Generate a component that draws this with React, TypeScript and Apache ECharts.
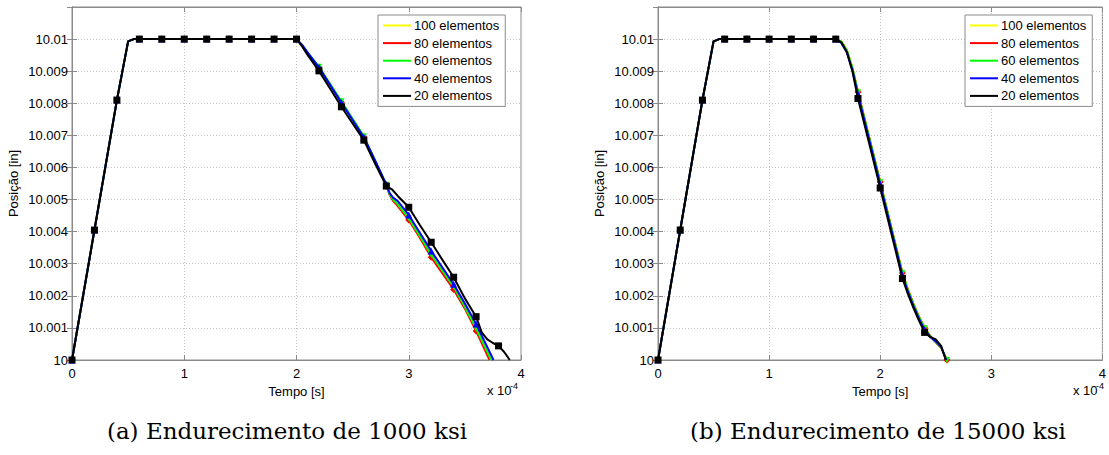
import React, { useEffect, useRef } from "react";
import * as echarts from "echarts";

// ---------- data ----------
const seriesNames = ["100 elementos", "80 elementos", "60 elementos", "40 elementos", "20 elementos"];
const seriesColors = ["#ffff00", "#ff0000", "#00ff00", "#0000ff", "#000000"];
const markerShapes = ["circle", "diamond", "triangle", "triangle", "rect"];
const markerRotations = [0, 0, 180, 0, 0];
const markerSizes = [5, 7, 6, 7, 7];

const xTickValues = [0, 1, 2, 3, 4];
const captionA = "(a) Endurecimento de 1000 ksi";
const captionB = "(b) Endurecimento de 15000 ksi";

// time in units of 1e-4 s, position in inches
const riseCommon: number[][] = [
  [0, 10.0], [0.2, 10.00405], [0.4, 10.0081], [0.5, 10.00993], [0.55, 10.01],
  [0.6, 10.01], [0.8, 10.01], [1.0, 10.01], [1.2, 10.01], [1.4, 10.01], [1.6, 10.01],
];
const plateauLeft: number[][] = [[1.8, 10.01], [2.0, 10.01]];

// chart (a) — descent
const leftTail100: number[][] = [
  [2.05, 10.0098], [2.1, 10.00956], [2.2, 10.00913], [2.3, 10.00858], [2.4, 10.00804], [2.5, 10.0075],
  [2.6, 10.00696], [2.7, 10.0062], [2.8, 10.00545], [2.83, 10.00515], [2.86, 10.00497], [2.9, 10.00482],
  [3.0, 10.00438], [3.1, 10.00382], [3.2, 10.00323], [3.3, 10.00273], [3.4, 10.00222],
  [3.5, 10.00162], [3.6, 10.00093], [3.725, 10.0],
];
const leftTail80: number[][] = [
  [2.05, 10.0098], [2.1, 10.00955], [2.2, 10.00912], [2.3, 10.00858], [2.4, 10.00803], [2.5, 10.0075],
  [2.6, 10.00695], [2.7, 10.0062], [2.8, 10.00545], [2.83, 10.00514], [2.86, 10.00496], [2.9, 10.0048],
  [3.0, 10.00436], [3.1, 10.0038], [3.2, 10.0032], [3.3, 10.0027], [3.4, 10.0022],
  [3.5, 10.0016], [3.6, 10.0009], [3.72, 10.0],
];
const leftTail60: number[][] = [
  [2.05, 10.00981], [2.1, 10.00957], [2.2, 10.00914], [2.3, 10.0086], [2.4, 10.00806], [2.5, 10.00752],
  [2.6, 10.00697], [2.7, 10.00621], [2.8, 10.00546], [2.83, 10.00516], [2.86, 10.005], [2.9, 10.00486],
  [3.0, 10.00442], [3.1, 10.00386], [3.2, 10.00328], [3.3, 10.00278], [3.4, 10.00228],
  [3.5, 10.00166], [3.6, 10.00098], [3.735, 10.0],
];
const leftTail40: number[][] = [
  [2.05, 10.00982], [2.1, 10.00958], [2.2, 10.00912], [2.3, 10.00857], [2.4, 10.00802], [2.5, 10.00748],
  [2.6, 10.00694], [2.7, 10.00622], [2.8, 10.00547], [2.83, 10.0052], [2.86, 10.00506], [2.9, 10.00496],
  [3.0, 10.00452], [3.1, 10.00396], [3.2, 10.0034], [3.3, 10.00288], [3.4, 10.00236],
  [3.5, 10.00176], [3.6, 10.00112], [3.755, 10.0],
];
const leftTail20: number[][] = [
  [2.05, 10.00977], [2.1, 10.0095], [2.2, 10.00901], [2.3, 10.00845], [2.4, 10.00789], [2.5, 10.00737],
  [2.6, 10.00685], [2.7, 10.00612], [2.8, 10.00542], [2.85, 10.00532], [2.9, 10.00512],
  [3.0, 10.00476], [3.1, 10.0042], [3.2, 10.00367], [3.3, 10.00312], [3.4, 10.00258],
  [3.5, 10.00192], [3.6, 10.00135], [3.65, 10.00086], [3.7, 10.00064], [3.75, 10.00053], [3.8, 10.00044],
  [3.85, 10.00025], [3.9, 10.0],
];

// chart (b) — descent
const rightTail100: number[][] = [
  [1.65, 10.00992], [1.7, 10.00965], [1.75, 10.0091], [1.8, 10.00836], [1.9, 10.00696],
  [2.0, 10.00556], [2.1, 10.00414], [2.2, 10.00272], [2.25, 10.0022], [2.3, 10.00175], [2.35, 10.00135], [2.4, 10.001],
  [2.45, 10.00076], [2.5, 10.00056], [2.55, 10.00038], [2.6, 10.0],
];
const rightTail80: number[][] = [
  [1.65, 10.00992], [1.7, 10.00964], [1.75, 10.00909], [1.8, 10.00835], [1.9, 10.00695],
  [2.0, 10.00555], [2.1, 10.00413], [2.2, 10.00271], [2.25, 10.00219], [2.3, 10.00174], [2.35, 10.00134], [2.4, 10.001],
  [2.45, 10.00075], [2.5, 10.00055], [2.55, 10.00037], [2.6, 10.0],
];
const rightTail60: number[][] = [
  [1.65, 10.00992], [1.7, 10.00965], [1.75, 10.0091], [1.8, 10.00834], [1.9, 10.00694],
  [2.0, 10.00554], [2.1, 10.00412], [2.2, 10.0027], [2.25, 10.00218], [2.3, 10.00173], [2.35, 10.00133], [2.4, 10.00099],
  [2.45, 10.00074], [2.5, 10.00056], [2.55, 10.00038], [2.6, 10.0],
];
const rightTail40: number[][] = [
  [1.65, 10.00988], [1.7, 10.00958], [1.75, 10.00903], [1.8, 10.00828], [1.9, 10.00688],
  [2.0, 10.00548], [2.1, 10.00406], [2.2, 10.00264], [2.25, 10.00212], [2.3, 10.00168], [2.35, 10.00128], [2.4, 10.00094],
  [2.45, 10.00072], [2.5, 10.00058], [2.55, 10.0004], [2.595, 10.0],
];
const rightTail20: number[][] = [
  [1.65, 10.0099], [1.7, 10.0096], [1.75, 10.009], [1.8, 10.00815], [1.9, 10.00676],
  [2.0, 10.00536], [2.1, 10.00395], [2.2, 10.00254], [2.25, 10.00205], [2.3, 10.00162], [2.35, 10.00122], [2.4, 10.00086],
  [2.45, 10.00072], [2.5, 10.00064], [2.55, 10.00043], [2.59, 10.0],
];

const leftTails = [leftTail100, leftTail80, leftTail60, leftTail40, leftTail20];
const rightTails = [rightTail100, rightTail80, rightTail60, rightTail40, rightTail20];

// ---------- layout ----------
const FONT = "'Liberation Sans', Arial, sans-serif";
const GRID_TOP = 7;
const GRID_H = 353;
const GRID_W = 449;
const GRID_LEFTS = [72, 658];

function isMarker(t: number) {
  return Math.abs(t * 5 - Math.round(t * 5)) < 1e-6;
}

function yFmt(v: number) {
  if (v > 10.0105) return "";
  return String(Number(v.toFixed(3)));
}

function buildOption() {
  const grids = GRID_LEFTS.map((left) => ({
    left,
    top: GRID_TOP,
    width: GRID_W,
    height: GRID_H,
    show: true,
    borderColor: "#8a8a8a",
    borderWidth: 1,
    backgroundColor: "#fff",
  }));

  const xAxes: any[] = [];
  const yAxes: any[] = [];
  GRID_LEFTS.forEach((_, gi) => {
    xAxes.push({
      type: "value",
      gridIndex: gi,
      min: xTickValues[0],
      max: xTickValues[xTickValues.length - 1],
      interval: 1,
      name: "Tempo [s]",
      nameLocation: "middle",
      nameGap: 19,
      nameTextStyle: { color: "#000", fontSize: 13, fontFamily: FONT },
      axisLine: { show: true, lineStyle: { color: "#8a8a8a", width: 1 } },
      axisTick: { show: true, inside: true, length: 5, lineStyle: { color: "#8a8a8a" } },
      axisLabel: { color: "#000", fontSize: 13, fontFamily: FONT, margin: 7 },
      splitLine: { show: true, lineStyle: { color: "#c4c4c4", type: [1, 2], width: 1 } },
    });
    xAxes.push({
      type: "value",
      gridIndex: gi,
      position: "top",
      min: 0,
      max: 4,
      interval: 1,
      axisLine: { show: true, lineStyle: { color: "#8a8a8a", width: 1 } },
      axisTick: { show: true, inside: true, length: 5, lineStyle: { color: "#8a8a8a" } },
      axisLabel: { show: false },
      splitLine: { show: false },
    });
    yAxes.push({
      type: "value",
      gridIndex: gi,
      min: 10,
      max: 10.011,
      interval: 0.001,
      name: "Posição [in]",
      nameLocation: "middle",
      nameGap: 52,
      nameTextStyle: { color: "#000", fontSize: 13, fontFamily: FONT },
      axisLine: { show: true, lineStyle: { color: "#8a8a8a", width: 1 } },
      axisTick: { show: true, inside: true, length: 5, lineStyle: { color: "#8a8a8a" } },
      axisLabel: { color: "#000", fontSize: 13, fontFamily: FONT, margin: 4, formatter: yFmt },
      splitLine: { show: true, lineStyle: { color: "#c4c4c4", type: [1, 2], width: 1 } },
    });
    yAxes.push({
      type: "value",
      gridIndex: gi,
      position: "right",
      min: 10,
      max: 10.011,
      interval: 0.001,
      axisLine: { show: true, lineStyle: { color: "#8a8a8a", width: 1 } },
      axisTick: { show: true, inside: true, length: 5, lineStyle: { color: "#8a8a8a" } },
      axisLabel: { show: false },
      splitLine: { show: false },
    });
  });

  const series: any[] = [];
  [0, 1].forEach((gi) => {
    seriesNames.forEach((name, si) => {
      const data =
        gi === 0
          ? [...riseCommon, ...plateauLeft, ...leftTails[si]]
          : [...riseCommon, ...rightTails[si]];
      const size = markerSizes[si];
      series.push({
        type: "line",
        name,
        xAxisIndex: gi * 2,
        yAxisIndex: gi * 2,
        data,
        smooth: false,
        showSymbol: true,
        symbol: markerShapes[si],
        symbolRotate: markerRotations[si],
        symbolSize: (v: number[]) => (isMarker(v[0]) ? size : 0),
        color: seriesColors[si],
        itemStyle: { color: seriesColors[si], borderWidth: 0 },
        lineStyle: { color: seriesColors[si], width: 2, join: "round" },
        emphasis: { disabled: true },
        z: 2 + si,
      });
    });
  });

  const legendBase = {
    orient: "vertical",
    top: 15,
    itemWidth: 28,
    itemHeight: 2,
    itemGap: 4.6,
    icon: "rect",
    padding: [4, 6, 4, 5],
    borderColor: "#8a8a8a",
    borderWidth: 1,
    borderRadius: 0,
    backgroundColor: "#fff",
    textStyle: { color: "#000", fontSize: 13, fontFamily: FONT, padding: [0, 0, 0, -2] },
    data: seriesNames,
    selectedMode: false,
  };

  const graphic: any[] = [];
  GRID_LEFTS.forEach((left) => {
    const right = left + GRID_W;
    graphic.push({
      type: "text",
      x: right - 34,
      y: 397,
      style: { text: "x 10", fill: "#000", font: `13px ${FONT}`, textVerticalAlign: "bottom" },
    });
    graphic.push({
      type: "text",
      x: right - 11,
      y: 390,
      style: { text: "-4", fill: "#000", font: `9px ${FONT}`, textVerticalAlign: "bottom" },
    });
  });
  const captionFont = "23px 'DejaVu Serif', serif";
  graphic.push({
    type: "text",
    x: 287,
    y: 431,
    style: { text: captionA, fill: "#000", font: captionFont, textAlign: "center", textVerticalAlign: "middle" },
  });
  graphic.push({
    type: "text",
    x: 878,
    y: 431,
    style: { text: captionB, fill: "#000", font: captionFont, textAlign: "center", textVerticalAlign: "middle" },
  });

  return {
    animation: false,
    backgroundColor: "#fff",
    textStyle: { fontFamily: FONT },
    grid: grids,
    xAxis: xAxes,
    yAxis: yAxes,
    legend: [
      { ...legendBase, left: 378 },
      { ...legendBase, left: 965 },
    ],
    series,
    graphic,
  };
}

export default function App() {
  const ref = useRef<HTMLDivElement>(null);
  useEffect(() => {
    document.body.style.margin = "0";
    if (!ref.current) return;
    const chart = echarts.init(ref.current, undefined, { renderer: "svg" });
    chart.setOption(buildOption() as any);
    return () => {
      chart.dispose();
    };
  }, []);
  return (
    <div
      ref={ref}
      style={{ position: "absolute", left: 0, top: 0, width: 1109, height: 455, background: "#fff" }}
    />
  );
}
